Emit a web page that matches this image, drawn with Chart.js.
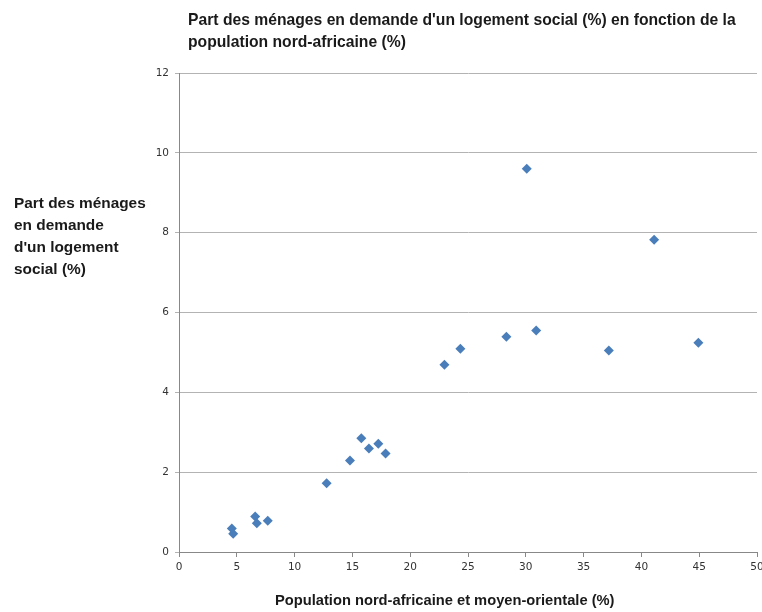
<!DOCTYPE html>
<html>
<head>
<meta charset="utf-8">
<script src="https://cdn.jsdelivr.net/npm/chart.js@4/dist/chart.umd.min.js"></script>
<style>
  body { margin: 0; background: #fff; }
  #wrap { position: relative; width: 762px; height: 612px; }
  canvas { position: absolute; left: 0; top: 0; }
  .label { position: absolute; font-family: 'Liberation Sans', sans-serif; font-weight: bold; color: #1a1a1a; white-space: nowrap; }
  #title { left: 188px; top: 9px; font-size: 15.7px; line-height: 22px; }
  #ylabel { left: 14px; top: 192px; font-size: 15.4px; line-height: 22px; }
  #xlabel { left: 275px; top: 590px; font-size: 14.7px; line-height: 20px; }
</style>
</head>
<body>
<div id="wrap">
  <canvas id="chart" width="762" height="612"></canvas>
  <div id="title" class="label">Part des ménages en demande d'un logement social (%) en fonction de la<br>population nord-africaine (%)</div>
  <div id="ylabel" class="label">Part des ménages<br>en demande<br>d'un logement<br>social (%)</div>
  <div id="xlabel" class="label">Population nord-africaine et moyen-orientale (%)</div>
</div>
<script>
const populationPct = [4.57, 4.69, 6.59, 6.73, 7.68, 12.77, 14.79, 15.77, 16.43, 17.24, 17.87,
  22.96, 24.34, 28.32, 30.9, 37.18, 30.08, 41.1, 44.93];
const demandPct = [0.59, 0.46, 0.89, 0.72, 0.78, 1.72, 2.29, 2.85, 2.59, 2.71, 2.47,
  4.69, 5.09, 5.39, 5.55, 5.05, 9.6, 7.82, 5.24];

const points = populationPct.map((x, i) => ({ x, y: demandPct[i] }));
const tickFont = { family: 'DejaVu Sans', size: 10.5 };

new Chart(document.getElementById('chart'), {
  type: 'scatter',
  data: {
    datasets: [{
      data: points,
      pointStyle: 'rectRot',
      pointRadius: 5,
      pointBackgroundColor: '#4a7ebb',
      pointBorderColor: '#4a7ebb',
      pointBorderWidth: 0
    }]
  },
  options: {
    responsive: false,
    animation: false,
    layout: { autoPadding: false, padding: { top: 73, right: 5, left: 0, bottom: 0 } },
    plugins: { legend: { display: false }, tooltip: { enabled: false } },
    scales: {
      x: {
        type: 'linear',
        min: 0,
        max: 50,
        ticks: { stepSize: 5, font: tickFont, color: '#333', padding: 4 },
        grid: { drawOnChartArea: false, tickLength: 5, color: '#888' },
        border: { color: '#888' },
        afterFit: (scale) => {
          scale.height = 60;
          scale.paddingLeft = 0;
          scale.paddingRight = 0;
        }
      },
      y: {
        type: 'linear',
        min: 0,
        max: 12,
        ticks: { stepSize: 2, font: tickFont, color: '#333', padding: 6 },
        grid: { color: '#b3b3b3', tickLength: 4 },
        border: { color: '#888' },
        afterFit: (scale) => { scale.width = 179; }
      }
    }
  }
});
</script>
</body>
</html>
